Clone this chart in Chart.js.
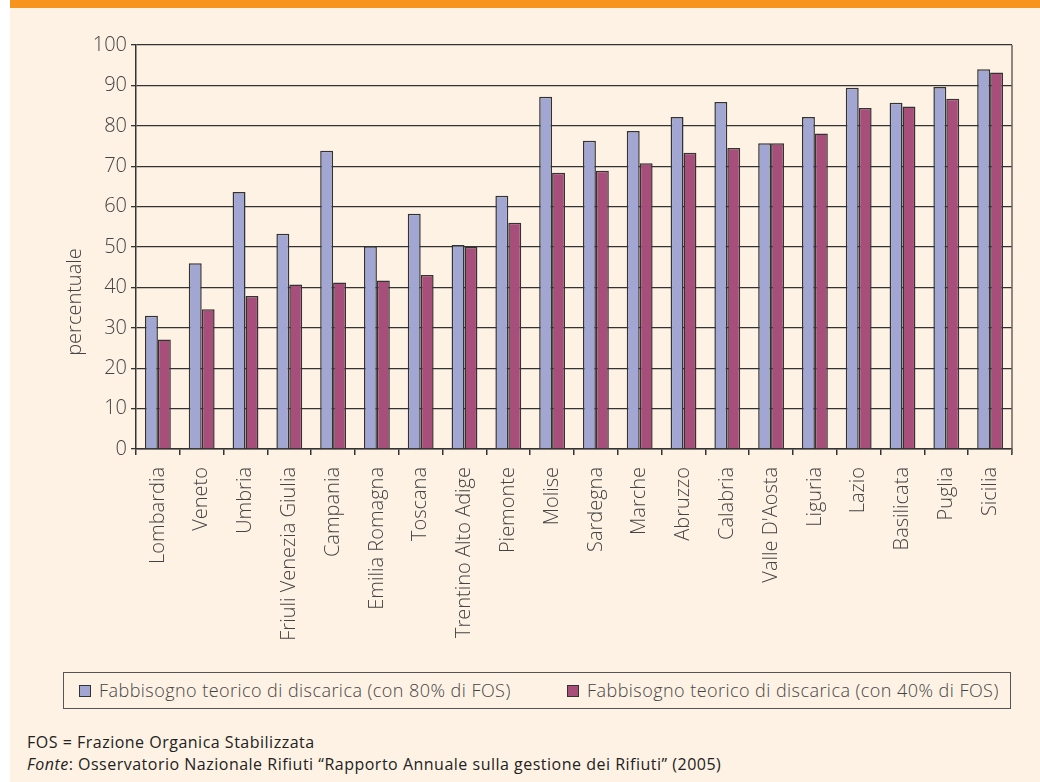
<!DOCTYPE html>
<html>
<head>
<meta charset="utf-8">
<script src="https://cdn.jsdelivr.net/npm/chart.js@4.4.1/dist/chart.umd.min.js"></script>
<style>
    html, body { margin: 0; padding: 0; background: #ffffff; }
    .panel { position: absolute; left: 10px; top: 0; width: 1030px; height: 782px; background: #fef2e4; }
    .band { position: absolute; left: 10px; top: 0; width: 1030px; height: 8px; background: #f7941d; }
    .chart-box { position: absolute; left: 0; top: 0; width: 1040px; height: 660px; }
    .legend { position: absolute; left: 63px; top: 672px; width: 948px; height: 37px; border: 1.5px solid #555; box-sizing: border-box;
        font-family: "Open Sans", "DejaVu Sans", sans-serif; font-weight: 300; font-size: 18px; letter-spacing: 0.45px; color: #444; }
    .legend span.item { position: absolute; top: 5px; white-space: nowrap; }
    .legend i { display: inline-block; width: 10px; height: 10px; border: 1.5px solid #333; margin-right: 8px; vertical-align: 0px; }
    .footer { position: absolute; left: 27px; top: 731px; font-family: "Open Sans", "DejaVu Sans", sans-serif; font-size: 16px; letter-spacing: 0.5px; color: #222; line-height: 22px; }
</style>
</head>
<body>
<div class="panel"></div>
<div class="band"></div>
<div class="chart-box"><canvas id="BarChart" width="1040" height="660"></canvas></div>
<div class="legend" id="Legend"></div>
<div class="footer">
    FOS = Frazione Organica Stabilizzata<br>
    <i>Fonte</i>: Osservatorio Nazionale Rifiuti “Rapporto Annuale sulla gestione dei Rifiuti” (2005)
</div>
<script>
const regions = ['Lombardia', 'Veneto', 'Umbria', 'Friuli Venezia Giulia', 'Campania', 'Emilia Romagna',
    'Toscana', 'Trentino Alto Adige', 'Piemonte', 'Molise', 'Sardegna', 'Marche', 'Abruzzo', 'Calabria',
    "Valle D'Aosta", 'Liguria', 'Lazio', 'Basilicata', 'Puglia', 'Sicilia'];
const fos80 = [33, 46, 63.6, 53.3, 73.8, 50.2, 58.2, 50.5, 62.7, 87.2, 76.3, 78.7, 82.2, 85.9, 75.7, 82.2, 89.4, 85.7, 89.6, 94];
const fos40 = [27.1, 34.6, 37.9, 40.7, 41.2, 41.7, 43.1, 50, 56, 68.4, 68.9, 70.7, 73.3, 74.5, 75.7, 78.1, 84.4, 84.8, 86.7, 93.2];
const seriesNames = ['Fabbisogno teorico di discarica (con 80% di FOS)', 'Fabbisogno teorico di discarica (con 40% di FOS)'];
const seriesColors = ['#a2a6d2', '#a84e7b'];

const fontFamily = '"Open Sans", "DejaVu Sans", sans-serif';

// legend in html, framed like the original
const legend = document.getElementById('Legend');
const legendX = [15, 503];
seriesNames.forEach((name, i) => {
    const item = document.createElement('span');
    item.className = 'item';
    item.style.left = legendX[i] + 'px';
    item.innerHTML = '<i style="background:' + seriesColors[i] + '"></i>' + name;
    legend.appendChild(item);
});

// right frame line + rotated y title
const framePlugin = {
    id: 'frame',
    afterDatasetsDraw(chart) {
        const { ctx, chartArea } = chart;
        ctx.save();
        ctx.strokeStyle = '#6b625c';
        ctx.lineWidth = 1.5;
        ctx.beginPath();
        ctx.moveTo(chartArea.right, chartArea.top);
        ctx.lineTo(chartArea.right, chartArea.bottom + 5);
        ctx.stroke();
        ctx.translate(75, 302);
        ctx.rotate(-Math.PI / 2);
        ctx.font = '300 20px ' + fontFamily;
        ctx.fillStyle = '#444';
        ctx.textAlign = 'center';
        ctx.textBaseline = 'middle';
        ctx.fillText('percentuale', 0, 0);
        ctx.restore();
    }
};

const ctx = document.getElementById('BarChart');
new Chart(ctx, {
    type: 'bar',
    data: {
        labels: regions,
        datasets: [{
            label: seriesNames[0],
            data: fos80,
            backgroundColor: seriesColors[0],
            borderColor: '#333',
            borderWidth: 1.5
        }, {
            label: seriesNames[1],
            data: fos40,
            backgroundColor: seriesColors[1],
            borderColor: '#333',
            borderWidth: 1.5
        }]
    },
    options: {
        responsive: false,
        animation: false,
        events: [],
        layout: { padding: { top: 45, right: 28, bottom: 0, left: 0 } },
        datasets: { bar: { categoryPercentage: 0.59, barPercentage: 1 } },
        plugins: {
            legend: { display: false },
            tooltip: { enabled: false }
        },
        scales: {
            x: {
                afterFit: (scale) => { scale.height = 211; },
                grid: { offset: true, drawOnChartArea: false, drawTicks: true, tickLength: 6, color: '#333', lineWidth: 1.5 },
                border: { color: '#333', width: 1.5 },
                ticks: {
                    minRotation: 90, maxRotation: 90, autoSkip: false, padding: 12,
                    color: '#444', font: { family: fontFamily, size: 20, weight: '300' }
                }
            },
            y: {
                min: 0, max: 100,
                afterFit: (scale) => { scale.width = 136; },
                grid: { color: '#333', lineWidth: 1.3, tickLength: 5 },
                border: { color: '#333', width: 1.5 },
                ticks: {
                    stepSize: 10, padding: 4,
                    color: '#444', font: { family: fontFamily, size: 20, weight: '300' }
                }
            }
        }
    },
    plugins: [framePlugin]
});
</script>
</body>
</html>
